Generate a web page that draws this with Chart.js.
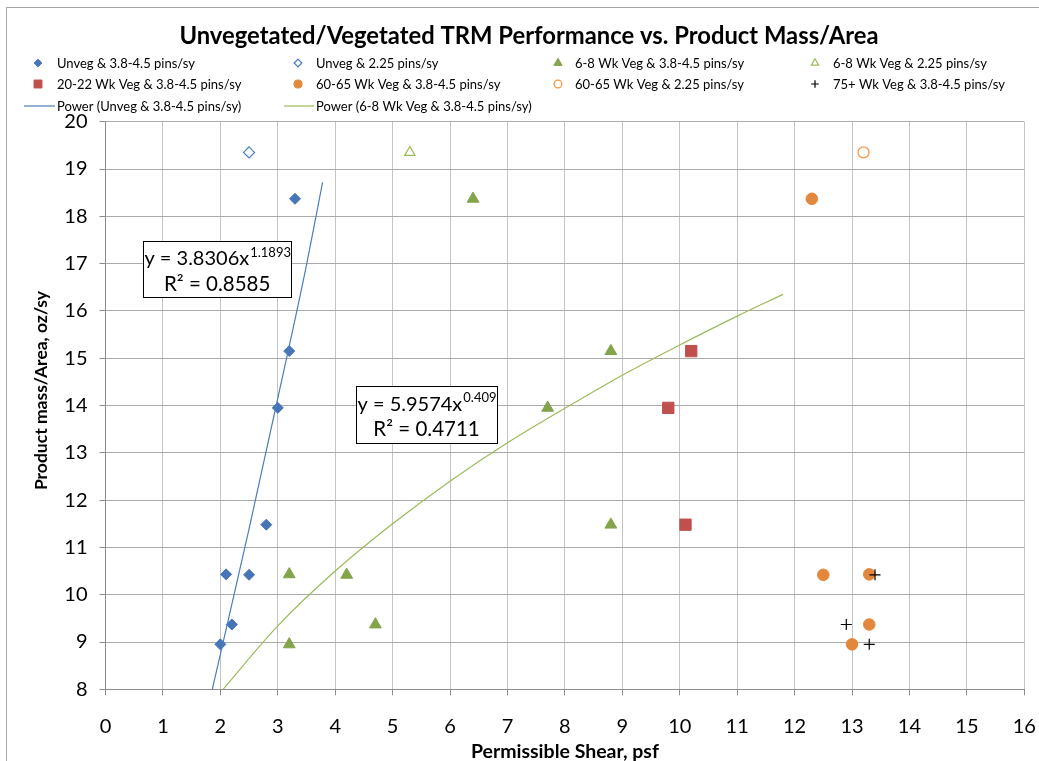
<!DOCTYPE html>
<html>
<head>
<meta charset="utf-8">
<script src="https://cdn.jsdelivr.net/npm/chart.js@4.4.0/dist/chart.umd.min.js"></script>
<style>
  html, body { margin: 0; padding: 0; background: #fff; overflow: hidden; }
  #wrap { position: relative; width: 1039px; height: 761px; }
  #frame { position: absolute; left: 6px; top: 7px; width: 1100px; height: 800px; border: 1px solid #a6a6a6; box-sizing: border-box; }
  canvas { position: absolute; left: 0; top: 0; }
</style>
</head>
<body>
<div id="wrap">
  <div id="frame"></div>
  <canvas id="trmChart" width="1039" height="761"></canvas>
</div>
<script>
// Chart text
const chartTitle = "Unvegetated/Vegetated TRM Performance vs. Product Mass/Area";
const xTitle = "Permissible Shear, psf";
const yTitle = "Product mass/Area, oz/sy";
const seriesNames = [
    "Unveg & 3.8-4.5 pins/sy",
    "Unveg & 2.25 pins/sy",
    "6-8 Wk Veg & 3.8-4.5 pins/sy",
    "6-8 Wk Veg & 2.25 pins/sy",
    "20-22 Wk Veg & 3.8-4.5 pins/sy",
    "60-65 Wk Veg & 3.8-4.5 pins/sy",
    "60-65 Wk Veg & 2.25 pins/sy",
    "75+ Wk Veg & 3.8-4.5 pins/sy",
    "Power (Unveg & 3.8-4.5 pins/sy)",
    "Power (6-8 Wk Veg & 3.8-4.5 pins/sy)"
];

// Axis ranges / ticks
const xTicks = [0, 16, 1];   // min, max, step
const yTicks = [8, 20, 1];

// Series values
const unvegX = [2.0, 2.1, 2.2, 2.5, 2.8, 3.0, 3.2, 3.3];
const unvegY = [8.95, 10.43, 9.37, 10.42, 11.48, 13.95, 15.15, 18.37];
const unveg225X = [2.5];
const unveg225Y = [19.35];
const veg68X = [3.2, 3.2, 4.2, 4.7, 6.4, 7.7, 8.8, 8.8];
const veg68Y = [10.43, 8.95, 10.42, 9.37, 18.37, 13.95, 15.15, 11.48];
const veg68_225X = [5.3];
const veg68_225Y = [19.35];
const veg2022X = [9.8, 10.1, 10.2];
const veg2022Y = [13.95, 11.48, 15.15];
const veg6065X = [12.3, 12.5, 13.0, 13.3, 13.3];
const veg6065Y = [18.37, 10.42, 8.95, 10.43, 9.37];
const veg6065_225X = [13.2];
const veg6065_225Y = [19.35];
const veg75X = [12.9, 13.3, 13.4];
const veg75Y = [9.37, 8.95, 10.42];

// Trendline curves, points
const trendUnvegX = [1.86, 2.0, 2.5, 3.0, 3.5, 3.78];
const trendUnvegY = [8.0, 8.74, 11.39, 14.15, 16.97, 18.72];
const trendVegX = [2.04, 3, 4, 5, 6, 7, 8, 9, 10, 11, 11.8];
const trendVegY = [7.99, 9.34, 10.5, 11.5, 12.4, 13.21, 13.94, 14.64, 15.28, 15.89, 16.35];

// Trendline labels
const trendLabels = [
    { base: "y = 3.8306x", exp: "1.1893", r2: "R² = 0.8585", box: [0.66, 17.48, 3.23, 16.29] },
    { base: "y = 5.9574x", exp: "0.409", r2: "R² = 0.4711", box: [4.36, 14.41, 6.82, 13.2] }
];

const FONT = "Lato, 'Open Sans', sans-serif";

function pts(xs, ys) {
    return xs.map((x, i) => ({ x: x, y: ys[i] }));
}

const BLUE = "#4674b6";
const RED = "#c0504d";
const GREEN = "#84a44a";
const ORANGE = "#e3873d";

const datasets = [
    { label: seriesNames[0], data: pts(unvegX, unvegY), pointStyle: "rectRot", pointRadius: 5.5, backgroundColor: BLUE, borderColor: BLUE, borderWidth: 1 },
    { label: seriesNames[1], data: pts(unveg225X, unveg225Y), pointStyle: "rectRot", pointRadius: 5.5, backgroundColor: "#fff", borderColor: "#4a7ebb", borderWidth: 1.2 },
    { label: seriesNames[2], data: pts(veg68X, veg68Y), pointStyle: "triangle", pointRadius: 6.8, backgroundColor: GREEN, borderColor: GREEN, borderWidth: 1 },
    { label: seriesNames[3], data: pts(veg68_225X, veg68_225Y), pointStyle: "triangle", pointRadius: 6, backgroundColor: "#fff", borderColor: "#9bbb59", borderWidth: 1.2 },
    { label: seriesNames[4], data: pts(veg2022X, veg2022Y), pointStyle: "rect", pointRadius: 8, backgroundColor: RED, borderColor: RED, borderWidth: 1 },
    { label: seriesNames[5], data: pts(veg6065X, veg6065Y), pointStyle: "circle", pointRadius: 5.8, backgroundColor: ORANGE, borderColor: ORANGE, borderWidth: 1 },
    { label: seriesNames[6], data: pts(veg6065_225X, veg6065_225Y), pointStyle: "circle", pointRadius: 5.5, backgroundColor: "#fff", borderColor: "#f79646", borderWidth: 1.3 },
    { label: seriesNames[7], data: pts(veg75X, veg75Y), pointStyle: "cross", pointRadius: 5.5, backgroundColor: "#000", borderColor: "#000", borderWidth: 1.2 },
    { label: seriesNames[8], data: pts(trendUnvegX, trendUnvegY), showLine: true, pointRadius: 0, borderColor: "#4a7ebb", borderWidth: 1.2, tension: 0.4, cubicInterpolationMode: "monotone" },
    { label: seriesNames[9], data: pts(trendVegX, trendVegY), showLine: true, pointRadius: 0, borderColor: "#9bbb59", borderWidth: 1.2, tension: 0.4, cubicInterpolationMode: "monotone" }
];
// later series on top, like Excel
datasets.forEach((d, i) => { d.order = -i; d.pointHoverRadius = d.pointRadius; });

// Legend grid positions (marker x, text x) per column, row y
const legendCols = [[38, 57], [298, 316], [558, 575], [815, 833]];
const legendRows = [63, 84, 106];

const overlay = {
    id: "overlay",
    afterDraw(chart) {
        const ctx = chart.ctx;
        const xs = chart.scales.x;
        const ys = chart.scales.y;
        const area = chart.chartArea;
        ctx.save();

        // title
        ctx.fillStyle = "#000";
        ctx.textAlign = "center";
        ctx.textBaseline = "middle";
        ctx.font = "bold 23.8px " + FONT;
        ctx.fillText(chartTitle, 529, 36);

        // legend
        ctx.font = "13px " + FONT;
        ctx.textAlign = "left";
        datasets.forEach((ds, i) => {
            const col = i % 4;
            const row = Math.floor(i / 4);
            const y = legendRows[row];
            const c = legendCols[col];
            if (ds.showLine) {
                ctx.strokeStyle = ds.borderColor;
                ctx.lineWidth = 1.2;
                ctx.beginPath();
                ctx.moveTo(c[0] - 14, y);
                ctx.lineTo(c[1] - 2, y);
                ctx.stroke();
            } else {
                ctx.save();
                ctx.fillStyle = ds.backgroundColor;
                ctx.strokeStyle = ds.borderColor;
                ctx.lineWidth = ds.borderWidth;
                Chart.helpers.drawPoint(ctx, { pointStyle: ds.pointStyle, rotation: 0, borderWidth: ds.borderWidth, radius: ds.pointRadius * 0.7 }, c[0], y);
                ctx.restore();
            }
            ctx.fillStyle = "#000";
            ctx.fillText(ds.label, c[1], y + 1);
        });

        // axis titles
        ctx.textAlign = "center";
        ctx.font = "bold 19.5px " + FONT;
        ctx.fillText(xTitle, (area.left + area.right) / 2, 752);
        ctx.font = "bold 17.5px " + FONT;
        ctx.save();
        ctx.translate(41, (area.top + area.bottom) / 2 - 15);
        ctx.rotate(-Math.PI / 2);
        ctx.fillText(yTitle, 0, 0);
        ctx.restore();

        // trendline equation boxes
        trendLabels.forEach((t) => {
            const l = xs.getPixelForValue(t.box[0]);
            const tp = ys.getPixelForValue(t.box[1]);
            const r = xs.getPixelForValue(t.box[2]);
            const b = ys.getPixelForValue(t.box[3]);
            ctx.fillStyle = "#fff";
            ctx.fillRect(l, tp, r - l, b - tp);
            ctx.strokeStyle = "#000";
            ctx.lineWidth = 1;
            ctx.strokeRect(Math.round(l) + 0.5, Math.round(tp) + 0.5, Math.round(r - l), Math.round(b - tp));
            const cx = (l + r) / 2;
            ctx.fillStyle = "#000";
            ctx.textBaseline = "middle";
            ctx.font = "20px " + FONT;
            const wBase = ctx.measureText(t.base).width;
            ctx.font = "13px " + FONT;
            const wExp = ctx.measureText(t.exp).width;
            const start = cx - (wBase + wExp) / 2;
            ctx.textAlign = "left";
            ctx.font = "20px " + FONT;
            ctx.fillText(t.base, start, tp + 18);
            ctx.font = "13px " + FONT;
            ctx.fillText(t.exp, start + wBase + 1, tp + 12);
            ctx.font = "20.5px " + FONT;
            ctx.textAlign = "center";
            ctx.fillText(t.r2, cx, tp + 43);
        });
        ctx.restore();
    }
};

new Chart(document.getElementById("trmChart"), {
    type: "scatter",
    data: { datasets: datasets },
    options: {
        responsive: false,
        animation: false,
        events: [],
        layout: { padding: { top: 121.7, right: 14.7, left: 0, bottom: 0 } },
        plugins: {
            legend: { display: false },
            title: { display: false },
            tooltip: { enabled: false }
        },
        scales: {
            x: {
                type: "linear",
                min: xTicks[0],
                max: xTicks[1],
                afterFit: (s) => { s.height = 71.7; s.paddingLeft = 0; s.paddingRight = 0; },
                ticks: { stepSize: xTicks[2], color: "#000", font: { family: FONT, size: 20 }, padding: 19 },
                grid: { color: "#c4c4c4", tickColor: "#8c8c8c", tickLength: 6, lineWidth: 1 },
                border: { color: "#8c8c8c", width: 1 }
            },
            y: {
                type: "linear",
                min: yTicks[0],
                max: yTicks[1],
                afterFit: (s) => { s.width = 105.5; },
                ticks: { stepSize: yTicks[2], color: "#000", font: { family: FONT, size: 20 }, padding: 12 },
                grid: { color: "#ababab", tickColor: "#8c8c8c", tickLength: 6, lineWidth: 1 },
                border: { color: "#8c8c8c", width: 1 }
            }
        }
    },
    plugins: [overlay]
});
</script>
</body>
</html>
